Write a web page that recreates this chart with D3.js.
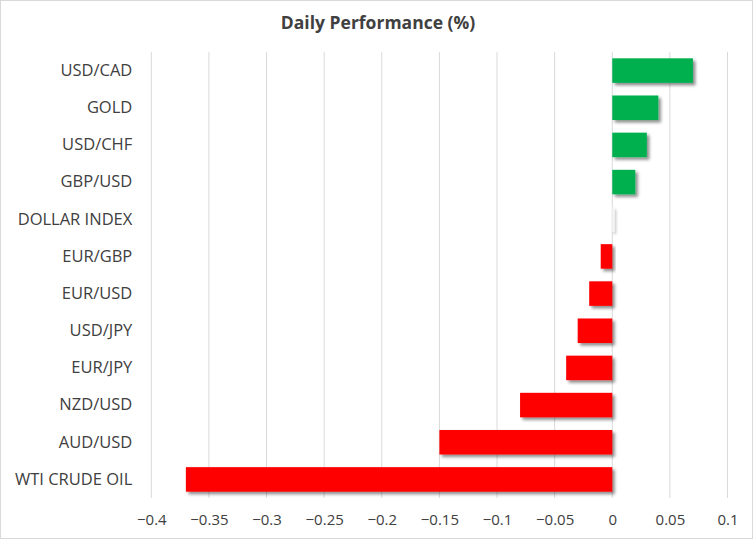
<!DOCTYPE html>
<html><head><meta charset="utf-8">
<script src="https://cdn.jsdelivr.net/npm/d3@7"></script>
<style>body{margin:0;background:#fff;} svg{display:block;font-family:"Open Sans",sans-serif;}</style>
</head><body><svg id="c" width="753" height="539"></svg>
<script>
const categories = ["USD/CAD","GOLD","USD/CHF","GBP/USD","DOLLAR INDEX","EUR/GBP","EUR/USD","USD/JPY","EUR/JPY","NZD/USD","AUD/USD","WTI CRUDE OIL"];
const values = [0.07,0.04,0.03,0.02,0.002,-0.01,-0.02,-0.03,-0.04,-0.08,-0.15,-0.37];
const tickValues = [-0.4,-0.35,-0.3,-0.25,-0.2,-0.15,-0.1,-0.05,0,0.05,0.1];
const title = "Daily Performance (%)";

const svg = d3.select("#c");
const W = 753, H = 539;
const m = {left:151.3, right:753-727.5, top:52, bottom:539-498};
svg.append("rect").attr("x",0.5).attr("y",0.5).attr("width",W-1).attr("height",H-1).attr("fill","#fff").attr("stroke","#d9d9d9");

const defs = svg.append("defs");
const f = defs.append("filter").attr("id","sh").attr("x","-20%").attr("y","-30%").attr("width","150%").attr("height","170%");
f.append("feDropShadow").attr("dx",2.5).attr("dy",2.5).attr("stdDeviation",1.6).attr("flood-color","#000").attr("flood-opacity",0.45);
const f2 = defs.append("filter").attr("id","sh2").attr("x","-300%").attr("y","-30%").attr("width","800%").attr("height","170%");
f2.append("feDropShadow").attr("dx",1.5).attr("dy",2.5).attr("stdDeviation",1.2).attr("flood-color","#000").attr("flood-opacity",0.25);

const x = d3.scaleLinear().domain([-0.4,0.1]).range([m.left, W-m.right]);
const y = d3.scaleBand().domain(categories).range([m.top, H-m.bottom]).paddingInner(0.34).paddingOuter(0.17);

// gridlines
svg.append("g").selectAll("line").data(tickValues).join("line")
  .attr("x1",d=>x(d)).attr("x2",d=>x(d)).attr("y1",m.top).attr("y2",H-m.bottom)
  .attr("stroke","#d9d9d9").attr("stroke-width",1);

// bars
svg.append("g").selectAll("rect").data(categories).join("rect")
  .attr("x",(d,i)=>x(Math.min(0,values[i])))
  .attr("width",(d,i)=>Math.abs(x(values[i])-x(0)))
  .attr("y",d=>y(d)).attr("height",y.bandwidth())
  .attr("fill",(d,i)=>values[i]>=0.005?"#00b050":(values[i]<0?"#ff0000":"#f4f4f4"))
  .attr("filter",(d,i)=>Math.abs(values[i])<0.005?"url(#sh2)":"url(#sh)");

// x axis labels
const xa = svg.append("g").attr("transform",`translate(0,${H-m.bottom})`)
  .call(d3.axisBottom(x).tickValues(tickValues).tickSize(0).tickPadding(16).tickFormat(d=>d3.format("")(+d.toFixed(2))));
xa.select(".domain").remove();
xa.selectAll("text").attr("font-size",15).attr("fill","#404040").style("font-family","Open Sans");

// y axis labels
const ya = svg.append("g").attr("transform",`translate(${m.left},0)`)
  .call(d3.axisLeft(y).tickSize(0).tickPadding(19));
ya.select(".domain").remove();
ya.selectAll("text").attr("font-size",16.5).attr("fill","#404040").style("font-family","Open Sans");

svg.append("text").attr("x",378).attr("y",29).attr("text-anchor","middle")
  .attr("font-size",17.5).attr("font-weight","bold").attr("fill","#404040").text(title);
</script></body></html>
